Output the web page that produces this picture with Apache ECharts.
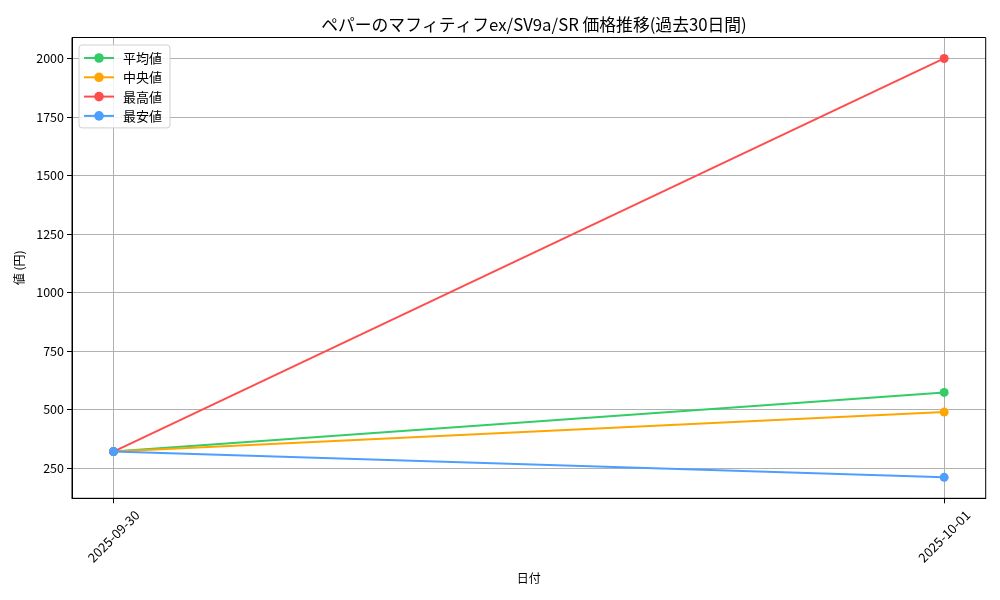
<!DOCTYPE html>
<html><head><meta charset="utf-8">
<script src="https://cdn.jsdelivr.net/npm/echarts@6/dist/echarts.min.js"></script>
<style>html,body{margin:0;padding:0;background:#fff}#c{width:1000px;height:600px}</style>
</head><body><div id="c"></div>
<script>
const dates = ['2025-09-30', '2025-10-01'];
const avgValues = [320, 573];
const medianValues = [320, 489];
const maxValues = [320, 2000];
const minValues = [320, 210];
const yTicks = [250, 500, 750, 1000, 1250, 1500, 1750, 2000];
const seriesNames = ['平均値', '中央値', '最高値', '最安値'];
const colors = ['#33cc66', '#ffa500', '#ff4d4d', '#4d9fff'];
const FONT = '"Noto Sans CJK JP", sans-serif';

const allSeries = [avgValues, medianValues, maxValues, minValues];
const chart = echarts.init(document.getElementById('c'));
chart.setOption({
  animation: false,
  backgroundColor: '#fff',
  title: {
    text: 'ペパーのマフィティフex/SV9a/SR 価格推移(過去30日間)',
    left: 529, top: 11, textAlign: 'center',
    textStyle: {fontFamily: FONT, fontSize: 16.8, fontWeight: 'normal', color: '#000'}
  },
  legend: {
    orient: 'vertical', left: 79, top: 45,
    data: seriesNames,
    itemWidth: 30, itemHeight: 12, itemGap: 5.3,
    padding: [6, 8, 5, 4],
    borderColor: '#d0d0d0', borderWidth: 1, borderRadius: 3,
    backgroundColor: 'rgba(255,255,255,0.85)',
    textStyle: {fontFamily: FONT, fontSize: 13, color: '#000', padding: [0, 0, 0, 4], lineHeight: 14}
  },
  grid: {left: 72, right: 14.3, top: 37.5, bottom: 101.7, containLabel: false},
  xAxis: {
    type: 'value', min: -0.05, max: 1.05,
    name: '日付', nameLocation: 'middle', nameGap: 74,
    nameTextStyle: {fontFamily: FONT, fontSize: 12, color: '#000'},
    axisLine: {show: true, onZero: false, lineStyle: {color: '#000', width: 1}},
    axisTick: {show: true, length: 5, lineStyle: {color: '#000'}, customValues: [0, 1]},
    axisLabel: {
      customValues: [0, 1], rotate: 45, color: '#000', fontFamily: FONT, fontSize: 13, margin: 38,
      align: 'center', verticalAlign: 'middle',
      formatter: v => dates[Math.round(v)]
    },
    splitLine: {show: true, lineStyle: {color: '#b0b0b0', width: 1}}
  },
  yAxis: {
    type: 'value', min: 120.5, max: 2089.5,
    name: '値 (円)', nameLocation: 'middle', nameGap: 46,
    nameTextStyle: {fontFamily: FONT, fontSize: 12, color: '#000'},
    axisLine: {show: true, onZero: false, lineStyle: {color: '#000', width: 1}},
    axisTick: {show: true, length: 5, lineStyle: {color: '#000'}, customValues: yTicks},
    axisLabel: {customValues: yTicks, color: '#000', fontFamily: FONT, fontSize: 12.5, margin: 8,
      formatter: v => String(v)},
    splitLine: {show: true, lineStyle: {color: '#b0b0b0', width: 1}}
  },
  series: seriesNames.map((n, i) => ({
    name: n, type: 'line',
    data: allSeries[i].map((v, j) => [j, v]),
    symbol: 'circle', symbolSize: 9,
    itemStyle: {color: colors[i]},
    lineStyle: {color: colors[i], width: 2},
    z: 2 + i
  })),
  graphic: [{
    type: 'rect', shape: {x: 72, y: 37.5, width: 913.7, height: 460.8},
    style: {fill: 'none', stroke: '#000', lineWidth: 1}, silent: true, z: 100
  }]
});
</script></body></html>
